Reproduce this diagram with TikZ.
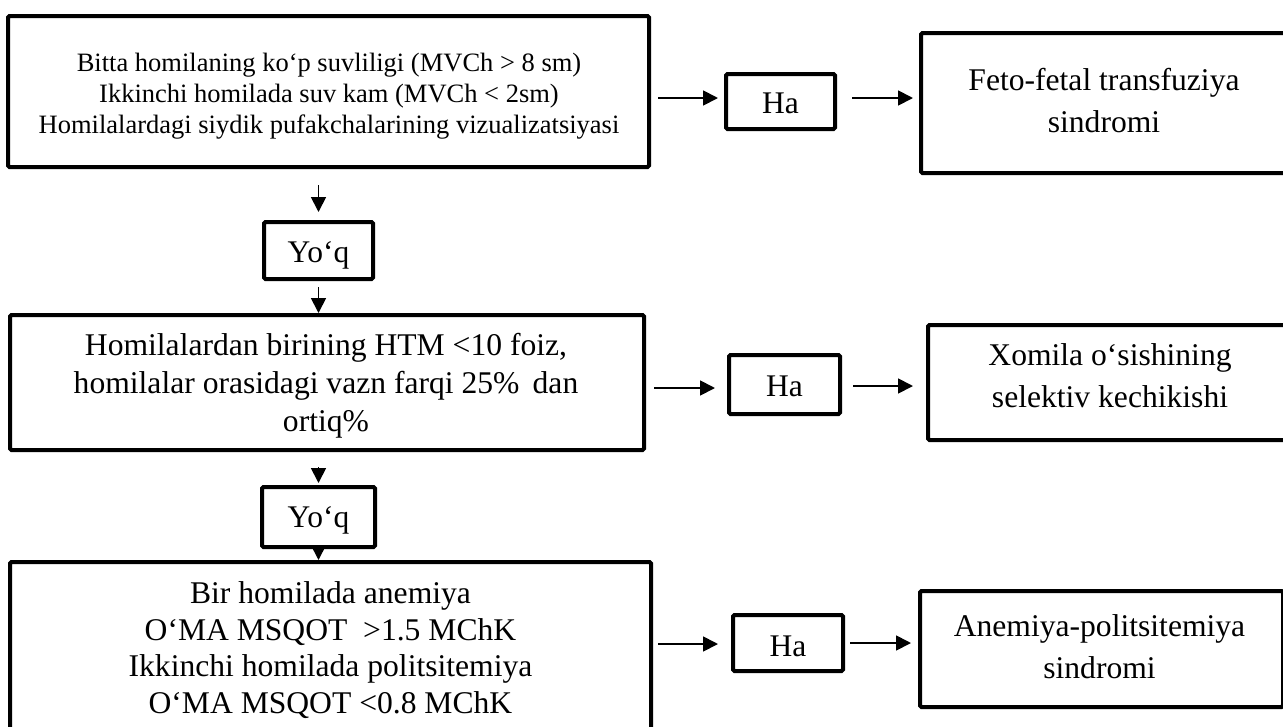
\documentclass[tikz,border=0pt]{standalone}
\usepackage{fontspec}
\setmainfont{Liberation Serif}
\usetikzlibrary{arrows.meta}
\begin{document}
\begin{tikzpicture}[x=1pt,y=-1pt,
  box/.style={draw, line width=4pt, rounded corners=1.5pt, inner sep=0pt},
  txt/.style={inner sep=0pt, align=center},
  smalltxt/.style={txt, font=\fontsize{26.5}{31}\selectfont},
  midtxt/.style={txt, font=\fontsize{31.6}{38}\selectfont},
  lowtxt/.style={txt, font=\fontsize{31.6}{36.7}\selectfont},
  restxt/.style={txt, font=\fontsize{31.6}{42}\selectfont},
  anstxt/.style={txt, font=\fontsize{31.5}{36}\selectfont},
  arr/.style={line width=1.8pt, -{Triangle[length=15pt,width=15pt]}},
]
\useasboundingbox (0,0) rectangle (1283,726);
\clip (0,0) rectangle (1283,726);

% ---- left column boxes
\node[box, minimum width=641pt, minimum height=151pt] (b1) at (328.5,91.5) {};
\node[smalltxt] (b1t) at (329,95.9)
  {Bitta homilaning ko‘p suvliligi (MVCh > 8 sm)\\
   Ikkinchi homilada suv kam (MVCh < 2sm)\\
   Homilalardagi siydik pufakchalarining vizualizatsiyasi};

\node[box, minimum width=109pt, minimum height=57pt] (y1) at (318.5,250.5) {};
\node[anstxt] (y1t) at (318.5,255.4) {Yo‘q};

\node[box, minimum width=634pt, minimum height=135pt] (b2) at (327,382.5) {};
\node[midtxt] (b2t) at (326,386.2)
  {Homilalardan birining HTM <10 foiz,\\
   homilalar orasidagi vazn farqi 25\%\ \,dan\\
   ortiq\%};

\node[box, minimum width=113pt, minimum height=60pt] (y2) at (318.5,517) {};
\node[anstxt] (y2t) at (318.5,520.7) {Yo‘q};

\node[box, minimum width=641pt, minimum height=180pt] (b3) at (330.5,652) {};
\node[lowtxt] (b3t) at (330.5,650)
  {Bir homilada anemiya\\
   O‘MA MSQOT\ \ >1.5 MChK\\
   Ikkinchi homilada politsitemiya\\
   O‘MA MSQOT <0.8 MChK};

% ---- answer boxes
\node[box, minimum width=109pt, minimum height=55pt] (h1) at (780.5,101.5) {};
\node[anstxt] (h1t) at (780.5,103.6) {Ha};
\node[box, minimum width=111pt, minimum height=59pt] (h2) at (784.5,384.5) {};
\node[anstxt] (h2t) at (784.5,386.6) {Ha};
\node[box, minimum width=110pt, minimum height=56pt] (h3) at (788,643) {};
\node[anstxt] (h3t) at (788,646.6) {Ha};

% ---- result boxes
\node[box, minimum width=366pt, minimum height=140pt] (r1) at (1104,103) {};
\node[restxt] (r1t) at (1104,100.3) {Feto-fetal transfuziya\\ sindromi};
\node[box, minimum width=362pt, minimum height=115pt] (r2) at (1109,382.5) {};
\node[restxt] (r2t) at (1110,375.8) {Xomila o‘sishining\\ selektiv kechikishi};
\node[box, minimum width=363pt, minimum height=116pt] (r3) at (1101.5,649) {};
\node[restxt] (r3t) at (1099.5,646.3) {Anemiya-politsitemiya\\ sindromi};

% ---- arrow rows
\coordinate (ra) at (0,98);
\coordinate (rb) at (0,388);
\coordinate (rc) at (0,386);
\coordinate (rd) at (0,644);
\coordinate (re) at (0,643);

\draw[arr, shorten <=7pt, shorten >=6pt] (b1.east |- ra) -- (h1.west |- ra);
\draw[arr, shorten <=15pt, shorten >=6pt] (h1.east |- ra) -- (r1.west |- ra);
\draw[arr, shorten <=8pt, shorten >=12pt] (b2.east |- rb) -- (h2.west |- rb);
\draw[arr, shorten <=11pt, shorten >=13pt] (h2.east |- rc) -- (r2.west |- rc);
\draw[arr, shorten <=5pt, shorten >=13pt] (b3.east |- rd) -- (h3.west |- rd);
\draw[arr, shorten <=5pt, shorten >=7pt] (h3.east |- re) -- (r3.west |- re);

% ---- down arrows
\draw[arr, shorten <=16pt, shorten >=8pt] (y1.north |- b1.south) -- (y1.north);
\draw[arr, shorten <=6pt] (y1.south) -- (y1.south |- b2.north);
\draw[arr, shorten <=15pt, shorten >=2pt] (y2.north |- b2.south) -- (y2.north);
\draw[arr, shorten <=-6pt] (y2.south) -- (y2.south |- b3.north);
\end{tikzpicture}
\end{document}
